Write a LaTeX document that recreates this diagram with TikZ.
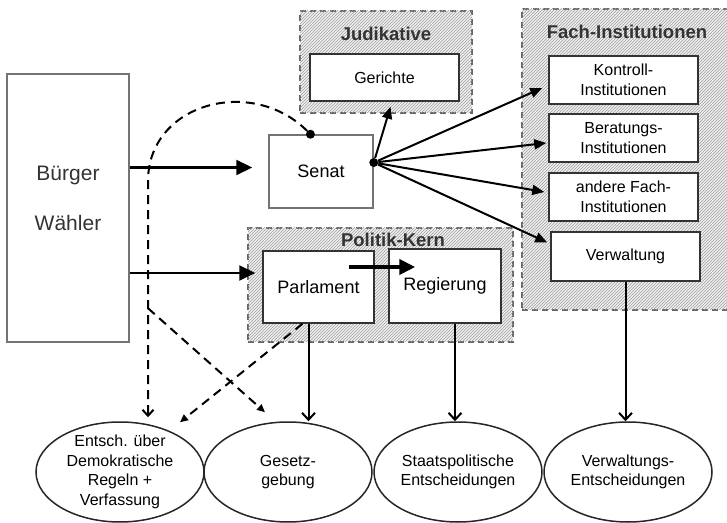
\documentclass[tikz,border=0pt]{standalone}
\usepackage{fontspec}
\setmainfont{Liberation Sans}
\usetikzlibrary{positioning,calc,arrows.meta,patterns,shapes.geometric}

\begin{document}
\begin{tikzpicture}[x=1pt,y=1pt,
  box/.style={draw=black!80, line width=1.5pt, fill=white, align=center, font=\fontsize{16}{20}\selectfont},
  group/.style={draw=black!60, dash pattern=on 6pt off 4pt, line width=1.4pt, fill=gray!12,
    postaction={pattern=north east lines, pattern color=gray!75}},
  grouptitle/.style={font=\fontsize{18.5}{22}\selectfont\bfseries, text=black!80},
  result/.style={ellipse, draw=black!85, line width=1.5pt, minimum width=168pt, minimum height=100pt,
    inner xsep=0pt, inner ysep=-5pt, align=center, font=\fontsize{16}{19.5}\selectfont},
  vote/.style={line width=2.2pt, -{Triangle[length=16pt,width=15pt]}},
  link/.style={line width=2pt, -{Triangle[length=12pt,width=10pt]}},
  down/.style={line width=2pt, -{Straight Barb[length=7pt,width=13pt]}},
  rule/.style={line width=2pt, dash pattern=on 9pt off 6pt},
  dot/.style={circle, fill=black, inner sep=0pt, minimum size=9pt}
]
\useasboundingbox (0,0) rectangle (727,522);

% gruppen
\node[group, minimum width=172pt, minimum height=102pt] (judikative) at (386,460) {};
\node[group, minimum width=265pt, minimum height=114pt] (kern) at (380.5,237) {};
\node[group, minimum width=218pt, minimum height=301pt] (fach) at (631,362.5) {};
\node[grouptitle] (judtitel) at (386,488) {Judikative};
\node[grouptitle] (kerntitel) at (393,282) {Politik-Kern};
\node[grouptitle] (fachtitel) at (627,490) {Fach-Institutionen};

% akteure
\node[draw=black!55, line width=1.5pt, minimum width=122pt, minimum height=268pt, align=center,
  font=\fontsize{21}{25}\selectfont, text=black!80, text depth=20pt] (buerger) at (68,314) {Bürger\\[25pt]Wähler};
\node[box, draw=black!55, minimum width=104pt, minimum height=73pt, font=\fontsize{18}{22}\selectfont] (senat) at (321,350.5) {Senat};
\node[box, minimum width=149pt, minimum height=47pt] (gerichte) at (384.5,444.5) {Gerichte};
\node[box, minimum width=111pt, minimum height=72pt, font=\fontsize{18}{22}\selectfont] (parlament) at (318.5,235) {Parlament};
\node[box, minimum width=112pt, minimum height=74pt, font=\fontsize{18}{22}\selectfont] (regierung) at (445,236) {Regierung};
\node[box, minimum width=149pt, minimum height=48pt] (kontroll) at (623.5,442) {Kontroll-\\Institutionen};
\node[box, minimum width=149pt, minimum height=48pt] (beratung) at (623.5,384) {Beratungs-\\Institutionen};
\node[box, minimum width=149pt, minimum height=48pt] (fachandere) at (623.5,325) {andere Fach-\\Institutionen};
\node[box, minimum width=149pt, minimum height=49pt] (verwaltung) at (625.5,265.5) {Verwaltung};

% entscheidungen
\node[result] (entsch) at (120,50) {Entsch. über\\Demokratische\\Regeln +\\Verfassung};
\node[result] (gesetz) at (288,50) {Gesetz-\\gebung};
\node[result] (staats) at (458,50) {Staatspolitische\\Entscheidungen};
\node[result] (vent) at (628,50) {Verwaltungs-\\Entscheidungen};

\node[dot] (topdot) at ($(senat.north west)!0.4!(senat.north east)$) {};
\node[dot] (hub) at ($(senat.north east)!0.38!(senat.south east)$) {};
\coordinate (split) at ($(entsch.north)+(28,113)$);
\coordinate (bend) at ($(entsch.north)+(28,240)$);

% wahl
\draw[vote] ($(senat.west -| buerger.east)+(0,4)$) -- ($(senat.west)+(-16,4)$);
\draw[vote] ($(parlament.west -| buerger.east)+(0,14)$) -- ($(parlament.west)+(-7,14)$);
\draw[line width=4.5pt, -{Triangle[length=16pt,width=15pt]}] ($(parlament.east)+(-26,20)$) -- ($(regierung.west)+(27,19)$);

% senat
\draw[link] (hub) -- ($(gerichte.south)+(6,-5)$);
\draw[link] (hub) -- ($(kontroll.west)+(-6,-8)$);
\draw[link] (hub) -- ($(beratung.west)+(-2,-5)$);
\draw[link] (hub) -- ($(fachandere.west)+(-4,5)$);
\draw[link] (hub) -- ($(verwaltung.west)+(-3,14)$);

% nach unten
\draw[down] ($(parlament.south)+(-10,0)$) -- ($(parlament.south |- gesetz.north)+(-10,0)$);
\draw[down] ($(regierung.south)+(10,0)$) -- ($(regierung.south |- staats.north)+(10,0)$);
\draw[down] (verwaltung.south) -- (verwaltung.south |- vent.north);

% gestrichelt
\draw[rule, -{Straight Barb[length=6pt,width=11pt]}] (topdot) to[out=135,in=90,looseness=1.2] (bend) -- ($(entsch.north)+(28,4)$);
\draw[rule, -{Triangle[length=8pt,width=7pt]}] (split) -- ($(gesetz.north)+(-23,9)$);
\draw[rule, -{Triangle[length=8pt,width=7pt]}] ($(parlament.south)+(-16,0)$) -- ($(entsch.north)+(60,-1)$);
\end{tikzpicture}
\end{document}
